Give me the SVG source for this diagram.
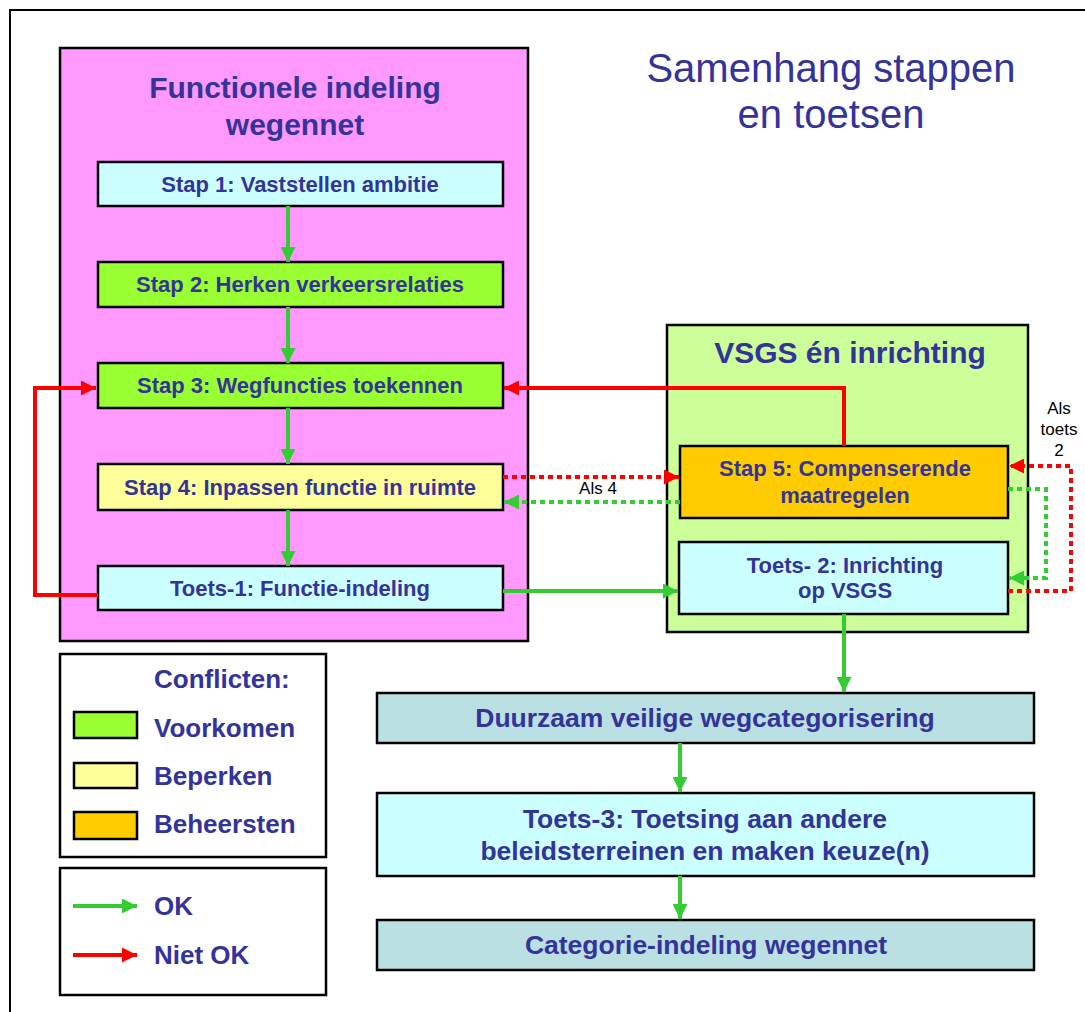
<svg xmlns="http://www.w3.org/2000/svg" width="1085" height="1012" viewBox="0 0 1085 1012">
<defs>
<marker id="hg" markerUnits="userSpaceOnUse" markerWidth="15" markerHeight="15" refX="15" refY="7.5" orient="auto"><path d="M0,0 L15,7.5 L0,15 z" fill="#33CC33"/></marker>
<marker id="hr" markerUnits="userSpaceOnUse" markerWidth="15" markerHeight="15" refX="15" refY="7.5" orient="auto"><path d="M0,0 L15,7.5 L0,15 z" fill="#FF0000"/></marker>
</defs>
<style>
text{font-family:"Liberation Sans",Arial,sans-serif;fill:#333399;text-anchor:middle}
.b{font-weight:bold}
.n{font-size:22px;font-weight:bold}
.bb{font-size:26.5px;font-weight:bold}
.t{font-size:30px;font-weight:bold}
.lg{font-size:26px;font-weight:bold;text-anchor:start}
.sm{font-size:17px;fill:#000000}
.box{stroke:#000;stroke-width:2.5}
.g{stroke:#33CC33;stroke-width:4;fill:none}
.r{stroke:#FF0000;stroke-width:4;fill:none}
.d{stroke-dasharray:5 4}
</style>
<rect x="10" y="10" width="1100" height="1100" fill="#fff" stroke="#000" stroke-width="2"/>
<g id="title"><text x="831" y="82" style="font-size:40px">Samenhang stappen</text><text x="831" y="128" style="font-size:40px">en toetsen</text></g>
<g id="group-functionele"><rect x="60" y="48" width="468" height="593" fill="#FF99FF" stroke="#000" stroke-width="2.5"/><text class="t" x="295" y="98">Functionele indeling</text><text class="t" x="295" y="135">wegennet</text></g>
<g id="group-vsgs"><rect x="667" y="325" width="361" height="307" fill="#CCFF99" stroke="#000" stroke-width="2.5"/><text class="t" x="850" y="363">VSGS én inrichting</text></g>
<g id="stap1"><rect class="box" x="98" y="162" width="405" height="44" fill="#CCFFFF"/><text class="n" x="300" y="192">Stap 1: Vaststellen ambitie</text></g>
<g id="stap2"><rect class="box" x="98" y="262" width="405" height="45" fill="#99FF33"/><text class="n" x="300" y="292">Stap 2: Herken verkeersrelaties</text></g>
<g id="stap3"><rect class="box" x="98" y="363" width="405" height="45" fill="#99FF33"/><text class="n" x="300" y="393">Stap 3: Wegfuncties toekennen</text></g>
<g id="stap4"><rect class="box" x="98" y="464" width="405" height="46" fill="#FFFF99"/><text class="n" x="300" y="495">Stap 4: Inpassen functie in ruimte</text></g>
<g id="toets1"><rect class="box" x="98" y="566" width="405" height="44" fill="#CCFFFF"/><text class="n" x="300" y="596">Toets-1: Functie-indeling</text></g>
<g id="stap5"><rect class="box" x="680" y="446" width="328" height="72" fill="#FFCC00"/><text class="n" x="845" y="476">Stap 5: Compenserende</text><text class="n" x="845" y="503">maatregelen</text></g>
<g id="toets2"><rect class="box" x="679" y="542" width="329" height="72" fill="#CCFFFF"/><text class="n" x="845" y="573">Toets- 2: Inrichting</text><text class="n" x="845" y="598">op VSGS</text></g>
<g id="duurzaam"><rect class="box" x="377" y="693" width="657" height="50" fill="#BBE0E3"/><text class="bb" x="705" y="727">Duurzaam veilige wegcategorisering</text></g>
<g id="toets3"><rect class="box" x="377" y="793" width="657" height="83" fill="#CCFFFF"/><text class="bb" x="705" y="828">Toets-3: Toetsing aan andere</text><text class="bb" x="705" y="860">beleidsterreinen en maken keuze(n)</text></g>
<g id="categorie"><rect class="box" x="377" y="920" width="657" height="50" fill="#BBE0E3"/><text class="bb" x="706" y="954">Categorie-indeling wegennet</text></g>
<g id="legend-conflicten"><rect x="60" y="654" width="266" height="203" fill="#fff" stroke="#000" stroke-width="2.5"/><text class="lg" x="154" y="688">Conflicten:</text>
<rect x="74" y="712" width="63" height="26" fill="#99FF33" stroke="#000" stroke-width="2.5"/><text class="lg" x="154" y="737">Voorkomen</text>
<rect x="74" y="763" width="63" height="25" fill="#FFFF99" stroke="#000" stroke-width="2.5"/><text class="lg" x="154" y="785">Beperken</text>
<rect x="74" y="812" width="63" height="27" fill="#FFCC00" stroke="#000" stroke-width="2.5"/><text class="lg" x="154" y="833">Beheersten</text></g>
<g id="legend-arrows"><rect x="60" y="868" width="266" height="127" fill="#fff" stroke="#000" stroke-width="2.5"/>
<line class="g" x1="73" y1="906" x2="137" y2="906" marker-end="url(#hg)"/><text class="lg" x="154" y="915">OK</text>
<line class="r" x1="73" y1="955" x2="137" y2="955" marker-end="url(#hr)"/><text class="lg" x="154" y="964">Niet OK</text></g>
<g id="connectors">
<line class="g" x1="288" y1="206" x2="288" y2="262" marker-end="url(#hg)"/>
<line class="g" x1="288" y1="307" x2="288" y2="363" marker-end="url(#hg)"/>
<line class="g" x1="288" y1="408" x2="288" y2="464" marker-end="url(#hg)"/>
<line class="g" x1="288" y1="510" x2="288" y2="566" marker-end="url(#hg)"/>
<polyline class="r" points="98,595 35,595 35,388 96,388" marker-end="url(#hr)"/>
<polyline class="r" points="844,446 844,388 504,388" marker-end="url(#hr)"/>
<line class="r d" x1="503" y1="477" x2="679" y2="477" marker-end="url(#hr)"/>
<line class="g d" x1="680" y1="502" x2="504" y2="502" marker-end="url(#hg)"/>
<text class="sm" x="598" y="494">Als 4</text>
<line class="g" x1="503" y1="591" x2="678" y2="591" marker-end="url(#hg)"/>
<polyline class="r d" points="1008,591 1071,591 1071,466 1009,466" marker-end="url(#hr)"/>
<polyline class="g d" points="1008,489 1046,489 1046,578 1009,578" marker-end="url(#hg)"/>
<text class="sm" x="1059" y="414">Als</text><text class="sm" x="1059" y="435">toets</text><text class="sm" x="1059" y="456">2</text>
<line class="g" x1="844" y1="614" x2="844" y2="692" marker-end="url(#hg)"/>
<line class="g" x1="680" y1="743" x2="680" y2="792" marker-end="url(#hg)"/>
<line class="g" x1="680" y1="876" x2="680" y2="919" marker-end="url(#hg)"/>
</g>
</svg>
